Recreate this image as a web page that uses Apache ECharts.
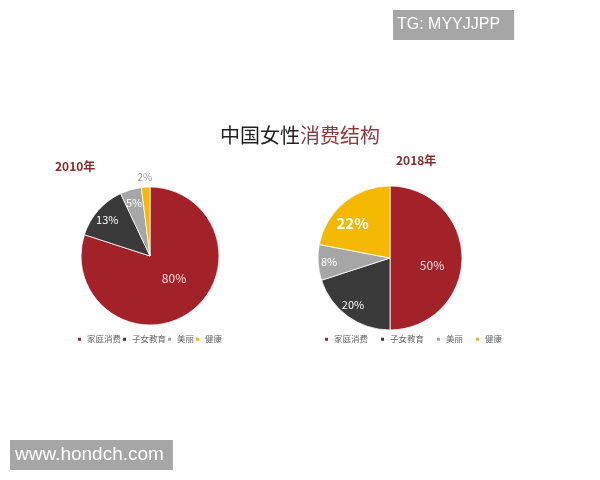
<!DOCTYPE html>
<html><head><meta charset="utf-8">
<script src="https://cdn.jsdelivr.net/npm/echarts@6/dist/echarts.min.js"></script>
<style>html,body{margin:0;padding:0;background:#fff}#c{width:600px;height:480px}</style>
</head><body><div id="c"></div>
<script>
const categories = ['家庭消费', '子女教育', '美丽', '健康'];
const values2010 = [80, 13, 5, 2];
const values2018 = [50, 20, 8, 22];
const colors = ['#a3222a', '#3a3a3a', '#a6a6a6', '#f5b800'];

const FONT = '"Noto Sans CJK SC", "Noto Sans", sans-serif';
const chart = echarts.init(document.getElementById('c'), null, {renderer: 'canvas'});

const C1 = [150, 256], R1 = 69;
const C2 = [390, 258], R2 = 72;

function mainPie(center, radius, values) {
  return {
    type: 'pie', center: center, radius: radius, startAngle: 90, clockwise: true,
    silent: true, z: 2,
    itemStyle: {borderColor: '#ffffff', borderWidth: 0.8},
    labelLine: {show: false},
    label: {show: false},
    data: categories.map((n, i) => ({name: n, value: values[i], itemStyle: {color: colors[i]}}))
  };
}
function ringLabels(center, radius, values, showIdx, style, shift) {
  const s = {
    type: 'pie', center: center, radius: radius, startAngle: 90, clockwise: true,
    silent: true, z: 3, legendHoverLink: false,
    itemStyle: {color: 'rgba(0,0,0,0)', borderWidth: 0},
    labelLine: {show: false},
    label: Object.assign({position: 'inside', formatter: '{c}%', fontFamily: FONT, fontSize: 11, color: '#ffffff'}, style),
    data: categories.map((n, i) => ({
      name: n, value: values[i],
      itemStyle: {color: 'rgba(0,0,0,0)'},
      label: {show: showIdx.indexOf(i) >= 0}
    }))
  };
  if (shift) s.labelLayout = shift;
  return s;
}
const legendData = categories.map((n, i) => ({name: n, itemStyle: {color: colors[i]}}));
const legendBase = {
  icon: 'rect', itemWidth: 5, itemHeight: 5, top: 335, padding: 0, selectedMode: false,
  textStyle: {fontFamily: FONT, fontSize: 8.5, color: '#666666'},
  data: legendData
};

const option = {
  backgroundColor: '#ffffff',
  animation: false,
  title: [
    {text: '{a|中国女性}{b|消费结构}', left: 'center', top: 120,
     textStyle: {rich: {a: {fontFamily: FONT, fontSize: 20, fontWeight: 'normal', color: '#222222'},
                        b: {fontFamily: FONT, fontSize: 20, fontWeight: 'normal', color: '#8e3a3e'}}}},
    {text: '2010年', left: 55, top: 160, padding: 0, textStyle: {fontFamily: FONT, fontSize: 12, fontWeight: 'bold', color: '#8e2a2e'}},
    {text: '2018年', left: 396, top: 154, padding: 0, textStyle: {fontFamily: FONT, fontSize: 12, fontWeight: 'bold', color: '#8e2a2e'}},
    {text: 'TG: MYYJJPP', left: 393, top: 10, padding: [7, 14, 7, 4], backgroundColor: '#a6a6a6',
     textStyle: {fontFamily: '"Liberation Sans", Arial, sans-serif', fontSize: 16, fontWeight: 'normal', color: '#ffffff'}},
    {text: 'www.hondch.com', left: 10, top: 440, padding: [5, 9, 6, 5], backgroundColor: '#a6a6a6',
     textStyle: {fontFamily: '"Liberation Sans", Arial, sans-serif', fontSize: 19, fontWeight: 'normal', color: '#ffffff'}}
  ],
  legend: [
    Object.assign({}, legendBase, {left: 76, itemGap: 0}),
    Object.assign({}, legendBase, {left: 323, itemGap: 11})
  ],
  series: [
    mainPie(C1, R1, values2010),
    mainPie(C2, R2, values2018),
    ringLabels(C1, [0, R1], values2010, [0], {fontSize: 12, color: '#f6dede'}, {dx: 2, dy: -8}),
    ringLabels(C1, [45, 63], values2010, [1, 2], {fontSize: 11}, {dy: 2}),
    ringLabels(C1, [70, 88], values2010, [3], {fontSize: 10, color: '#9a9a9a'}, {dy: 3}),
    ringLabels(C2, [30, 54], values2018, [0], {fontSize: 12, color: '#f6dede'}, {dx: -3, dy: 7}),
    ringLabels(C2, [40, 62], values2018, [3], {fontSize: 15, fontWeight: 'bold'}, {dx: -3, dy: 7}),
    ringLabels(C2, [50, 70], values2018, [1], {fontSize: 11}, {dy: -4}),
    ringLabels(C2, [50, 70], values2018, [2], {fontSize: 11}, {dx: 2})
  ]
};
chart.setOption(option);
</script>
</body></html>
